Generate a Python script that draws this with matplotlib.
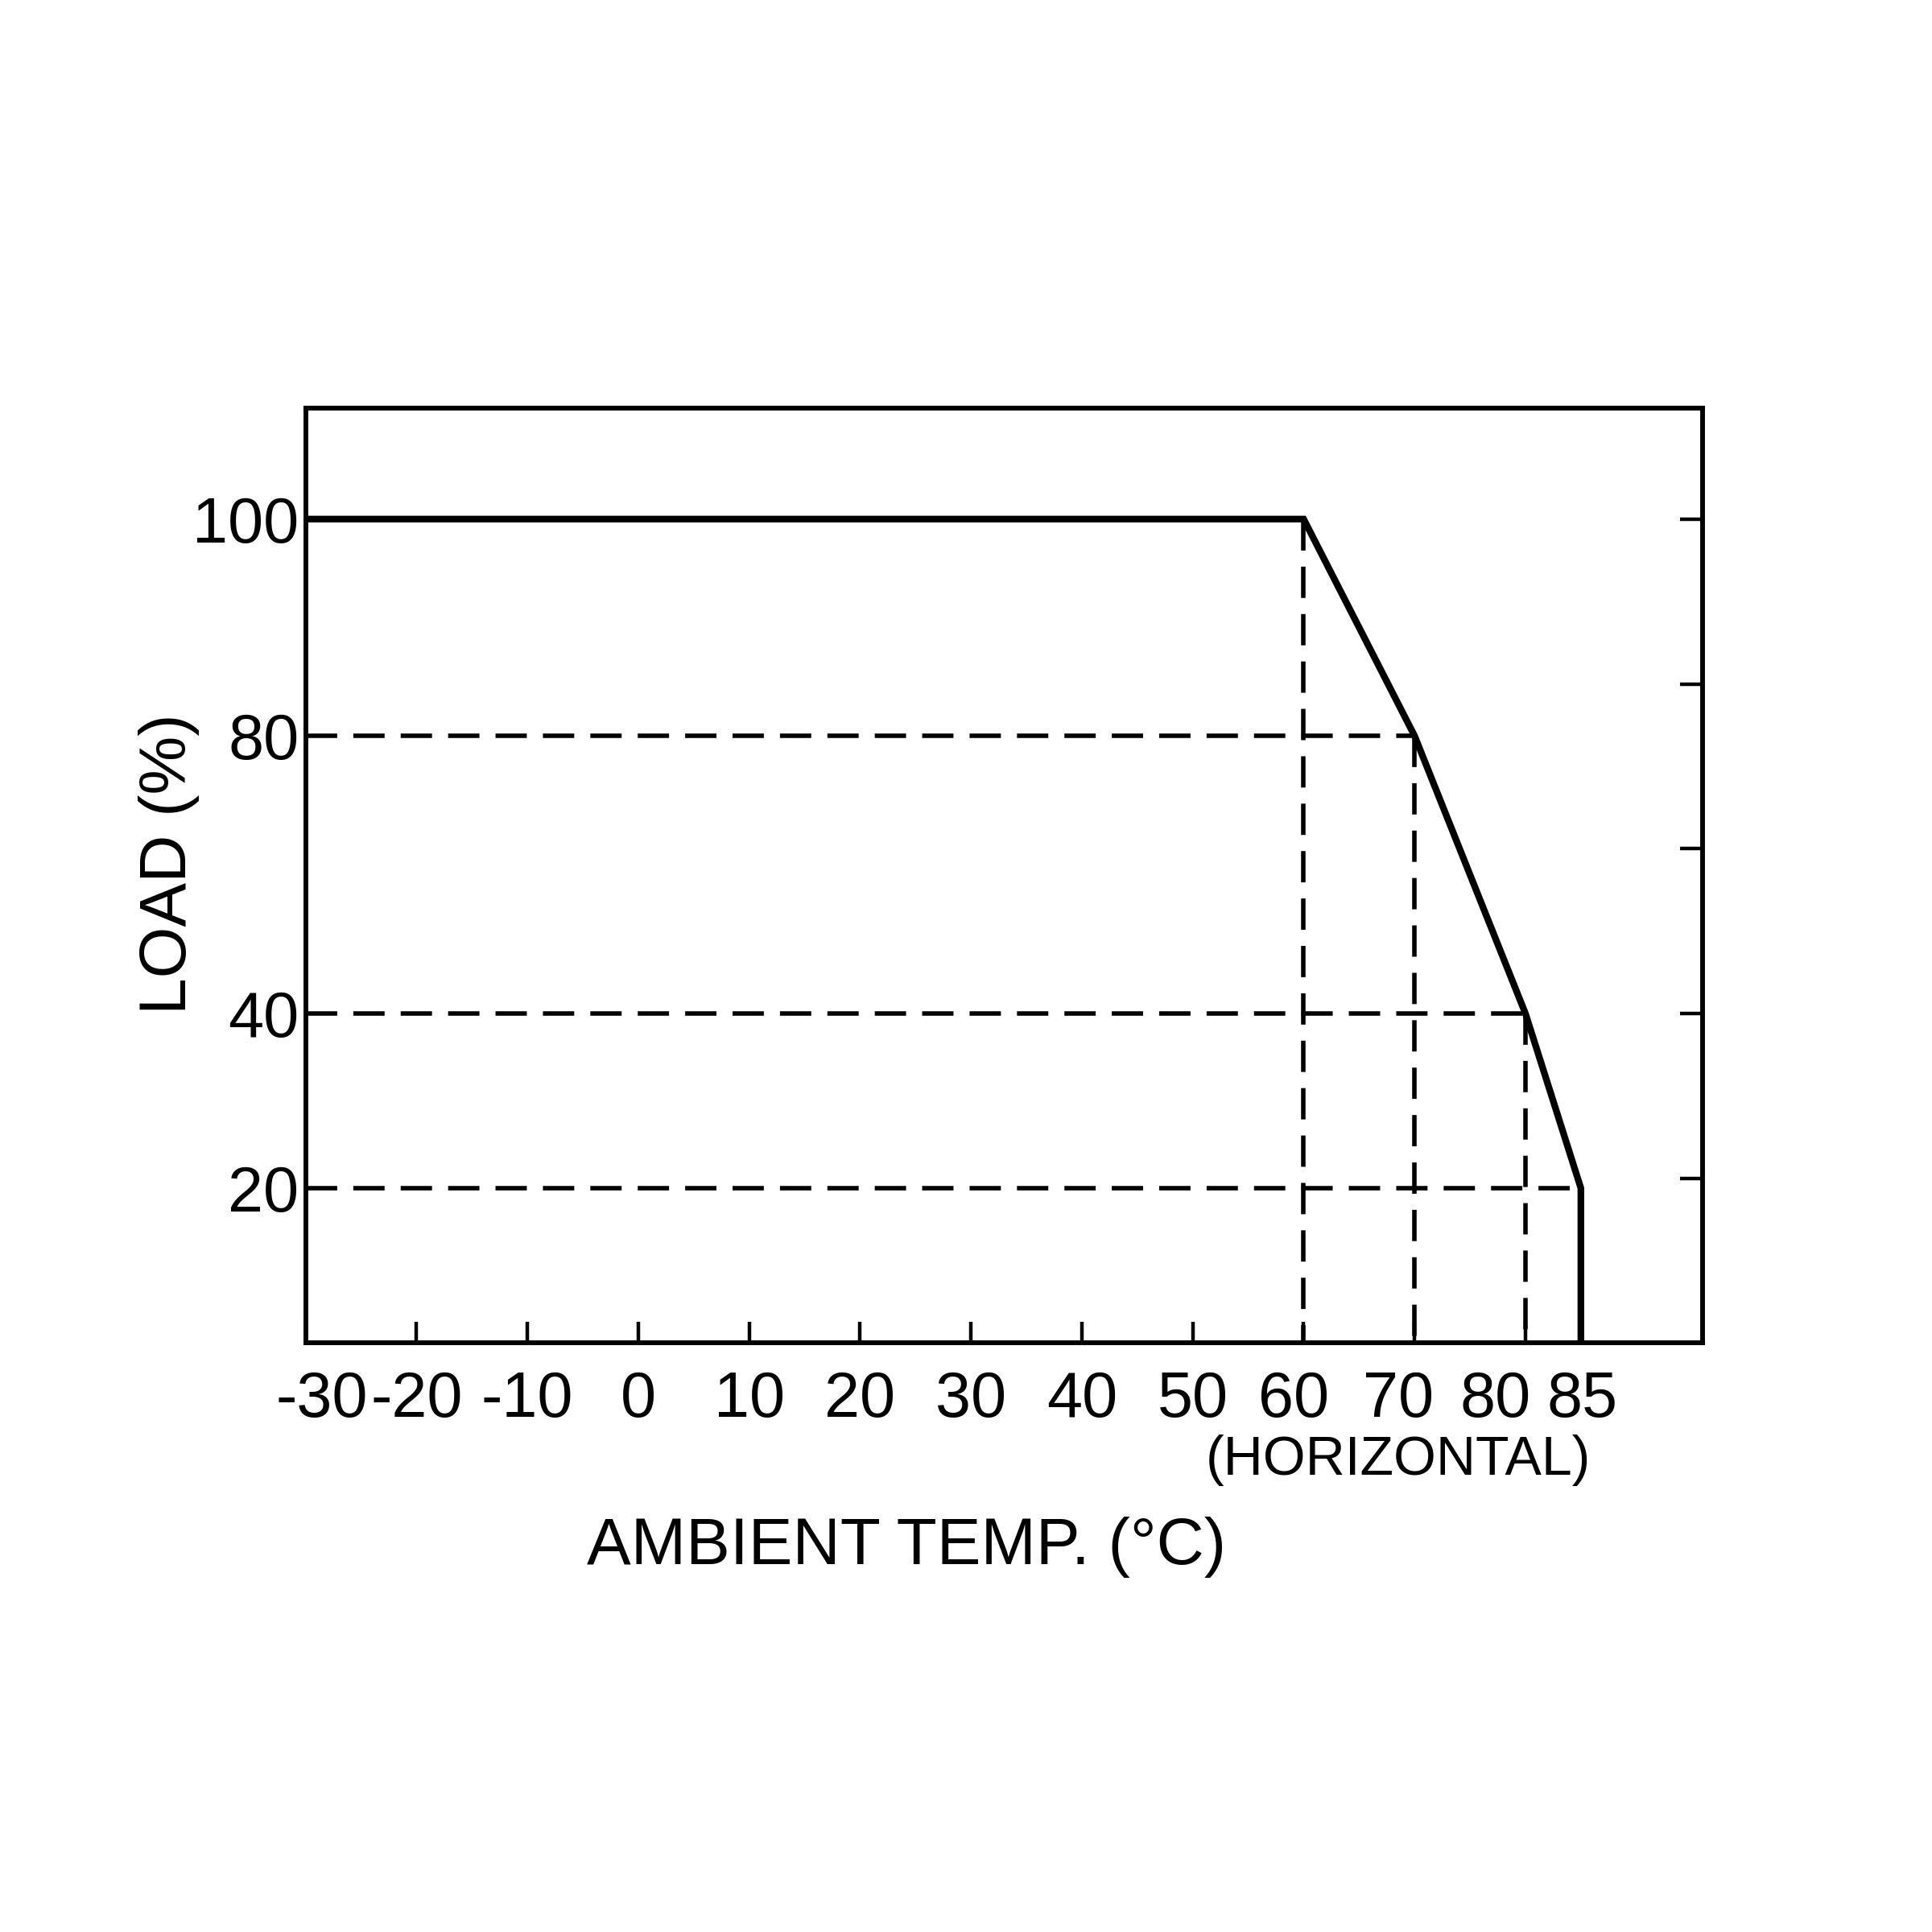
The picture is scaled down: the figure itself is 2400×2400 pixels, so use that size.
import matplotlib
matplotlib.use("Agg")
import matplotlib.pyplot as plt
from matplotlib.transforms import ScaledTranslation

plt.rcParams['font.family'] = ['Liberation Sans', 'DejaVu Sans']

# derating curve, values (load on the linear right-hand scale)
temp = [-30, 60, 70, 80, 85, 85]
load = [100, 100, 73.7, 40, 18.8, 0]

# left-hand labels sit on the break levels of the curve
level_vals = [100, 73.7, 40, 18.8]
level_labels = ["100", "80", "40", "20"]

x_ticks = [-30, -20, -10, 0, 10, 20, 30, 40, 50, 60, 70, 80, 85]
x_labels = [str(t) for t in x_ticks]
right_ticks = [20, 40, 60, 80, 100]

fig = plt.figure(figsize=(12, 12), dpi=200)
ax = fig.add_axes([0.1582, 0.3048, 0.7232, 0.4841])
ax.set_xlim(-30, 96)
ax.set_ylim(0, 113.5)

dash = dict(color='black', lw=2.0, linestyle=(0, (7, 3.6)), zorder=2)
x0 = ax.get_xlim()[0]
# horizontal guides from the left axis to each break
for t, l in zip(temp[2:5], load[2:5]):
    ax.plot([x0, t], [l, l], **dash)
# vertical guides from each break down to the bottom
for t, l in zip(temp[1:4], load[1:4]):
    ax.plot([t, t], [l, 0], **dash)

ax.plot(temp, load, color='black', lw=3.0, solid_joinstyle='miter', zorder=3)

for s in ax.spines.values():
    s.set_linewidth(2.0)

ax.set_xticks(x_ticks)
ax.set_xticklabels(x_labels, fontsize=28.5)
ax.tick_params(axis='x', direction='in', length=9.5, width=1.6, pad=12)
ax.set_yticks(level_vals)
ax.set_yticklabels(level_labels, fontsize=28.5)
ax.tick_params(axis='y', length=0, pad=3)

# nudge crowded tick labels like the original drawing
shifts = {"-30": 0.10, "60": -0.06, "70": -0.10, "80": -0.185, "85": 0.01}
for lab in ax.get_xticklabels():
    dx = shifts.get(lab.get_text(), 0)
    if dx:
        lab.set_transform(lab.get_transform() + ScaledTranslation(dx, 0, fig.dpi_scale_trans))

ax2 = ax.twinx()
ax2.set_ylim(ax.get_ylim())
ax2.set_yticks(right_ticks)
ax2.set_yticklabels([])
ax2.tick_params(axis='y', direction='in', length=10, width=1.6)
for s in ax2.spines.values():
    s.set_linewidth(2.0)

fig.text(0.7239, 0.2443, "(HORIZONTAL)", fontsize=24.5, ha='center', va='center')
fig.text(0.4694, 0.199, "AMBIENT TEMP. (°C)", fontsize=29.5, ha='center', va='center')
fig.text(0.0874, 0.553, "LOAD (%)", fontsize=29.5, ha='center', va='center', rotation=90)

plt.savefig('out.png', dpi=200, facecolor='white')
